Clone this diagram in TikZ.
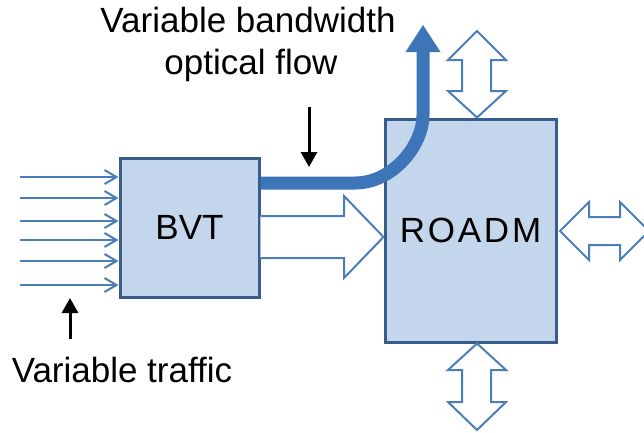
\documentclass[tikz,border=0pt]{standalone}
\usepackage{fontspec}
\setmainfont{Liberation Sans}
\newfontfamily\spacedfont[LetterSpace=8]{Liberation Sans}
\usetikzlibrary{arrows.meta}
\definecolor{boxfill}{RGB}{195,214,236}
\definecolor{boxdraw}{RGB}{56,93,138}
\definecolor{lineblue}{RGB}{74,126,187}
\definecolor{flowblue}{RGB}{62,117,184}
\begin{document}
\begin{tikzpicture}[x=1pt,y=-1pt,
  box/.style={draw=boxdraw, fill=boxfill, line width=3pt, inner sep=0pt,
    font=\fontsize{35}{40}\selectfont},
  inarrow/.style={draw=lineblue, line width=2pt, -{Straight Barb[length=12pt,width=14pt]}},
  blockarrow/.style={draw=lineblue, fill=white, line width=2pt, line join=miter},
  flow/.style={draw=flowblue, line width=13pt},
  pointer/.style={draw=black, line width=3pt, -{Triangle[length=15pt,width=16pt]}},
  label/.style={font=\fontsize{35}{40}\selectfont, anchor=base, inner sep=0pt}]
\useasboundingbox (0,0) rectangle (644,432);
\clip (0,0) rectangle (644,432);

% boxes
\node[box, minimum width=139pt, minimum height=139pt] (bvt) at (189.5,227.5) {BVT};
\node[box, minimum width=171pt, minimum height=223pt] (roadm) at (470.5,230.5) {\spacedfont ROADM};

% input traffic arrows
\foreach \y [count=\i] in {177,198,221,240,261,285} {
  \coordinate (in\i) at (20,\y);
  \draw[inarrow] (in\i) -- (in\i -| bvt.west);
}

% block arrow BVT -> ROADM
\coordinate (ba) at (bvt.east |- 0,216);
\fill[white] (ba) -- (344,216) -- (344,196) -- (roadm.west |- 0,237) -- (344,278) -- (344,258) -- (bvt.east |- 0,258) -- cycle;
\draw[blockarrow] (ba) -- (344,216) -- (344,196) -- (roadm.west |- 0,237) -- (344,278) -- (344,258) -- (bvt.east |- 0,258);

% variable bandwidth optical flow
\coordinate (f0) at (bvt.east |- 0,183);
\coordinate (f1) at (355,183);
\coordinate (f2) at (423,115);
\coordinate (f3) at (423,52);
\draw[flow] (f0) -- (f1) .. controls (392.6,183) and (423,145.4) .. (f2) -- (f3);
\fill[flowblue] (405.5,52) -- (423,25) -- (440.5,52) -- cycle;

% double arrows
\draw[blockarrow] (roadm.north -| 477,0) -- (448,91) -- (462,91) -- (462,60) -- (448,60) -- (477,31)
  -- (506,60) -- (491,60) -- (491,91) -- (506,91) -- cycle;
\draw[blockarrow] (roadm.south -| 477,0) -- (506,370) -- (491,370) -- (491,402) -- (506,402) -- (477,430)
  -- (448,402) -- (462,402) -- (462,370) -- (448,370) -- cycle;
\draw[blockarrow] (560,231) -- (589,202) -- (589,217) -- (620,217) -- (620,202) -- (649,231)
  -- (620,260) -- (620,245) -- (589,245) -- (589,260) -- cycle;

% labels
\node[label] (t1) at (248,32) {Variable bandwidth};
\node[label] (t2) at (251,74) {optical flow};
\node[label] (t3) at (122,382) {Variable traffic};

% pointer arrows
\coordinate (p1) at (309,107);
\coordinate (p2) at (309,167);
\draw[pointer] (p1) -- (p2);
\coordinate (q1) at (70,339);
\coordinate (q2) at (70,298);
\draw[pointer] (q1) -- (q2);
\end{tikzpicture}
\end{document}
